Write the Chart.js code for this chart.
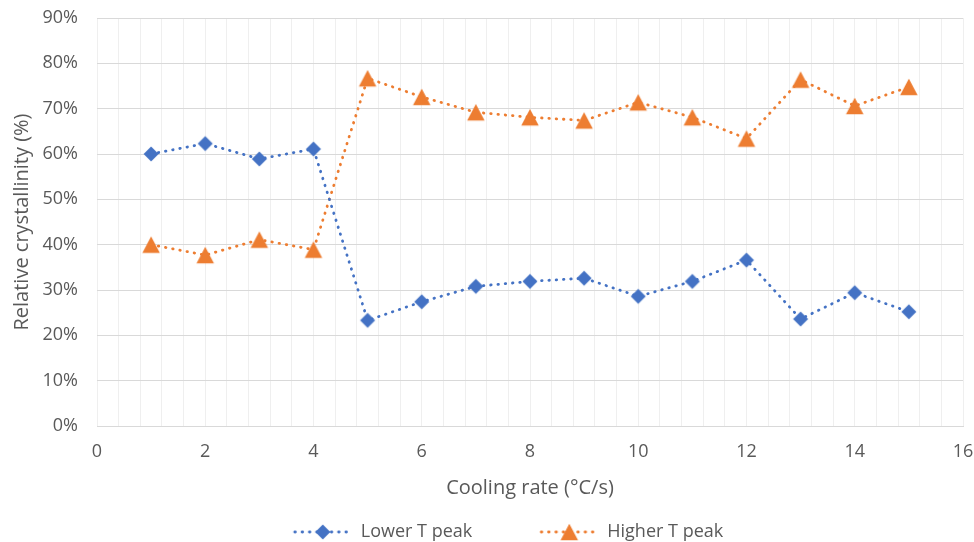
<!DOCTYPE html>
<html>
<head>
<meta charset="utf-8">
<script src="https://cdn.jsdelivr.net/npm/chart.js@4"></script>
<style>
  html, body { margin: 0; padding: 0; background: #fff; }
  #wrap { width: 974px; height: 542px; }
</style>
</head>
<body>
<div id="wrap"><canvas id="crystallinity"></canvas></div>
<script>
// cooling rate (°C/s) and relative crystallinity (%) of each DSC peak
const coolingRates = [1, 2, 3, 4, 5, 6, 7, 8, 9, 10, 11, 12, 13, 14, 15];
const lowerPeak = [60.0, 62.3, 58.9, 61.1, 23.3, 27.4, 30.8, 31.9, 32.6, 28.6, 31.9, 36.6, 23.6, 29.4, 25.2];
const higherPeak = [40.0, 37.7, 41.1, 38.9, 76.7, 72.6, 69.2, 68.1, 67.4, 71.4, 68.1, 63.4, 76.4, 70.6, 74.8];
const seriesNames = ['Lower T peak', 'Higher T peak'];

const BLUE = '#4472C4';
const ORANGE = '#ED7D31';
const TEXT = '#595959';
const FONT = '"Open Sans", sans-serif';
const LINE_W = 2.8;
const DOTS = [0.5, 6.8];

function drawDiamond(g, cx, cy, half, color) {
  g.fillStyle = color;
  g.beginPath();
  g.moveTo(cx, cy - half);
  g.lineTo(cx + half, cy);
  g.lineTo(cx, cy + half);
  g.lineTo(cx - half, cy);
  g.closePath();
  g.fill();
}

function drawTriangle(g, cx, cy, w, h, color) {
  g.fillStyle = color;
  g.beginPath();
  g.moveTo(cx, cy - h / 2);
  g.lineTo(cx + w / 2, cy + h / 2);
  g.lineTo(cx - w / 2, cy + h / 2);
  g.closePath();
  g.fill();
}

function makeMarker(kind) {
  const c = document.createElement('canvas');
  c.width = 20; c.height = 20;
  const g = c.getContext('2d');
  if (kind === 'diamond') drawDiamond(g, 10, 10, 7.5, BLUE);
  else drawTriangle(g, 10, 10, 17.5, 16.5, ORANGE);
  return c;
}

// legend sample: dotted line with marker, right aligned so the blank part spaces the items
const LEGEND_W = 101;
function makeLegendIcon(kind) {
  const c = document.createElement('canvas');
  c.width = LEGEND_W; c.height = 20;
  const g = c.getContext('2d');
  const color = kind === 'diamond' ? BLUE : ORANGE;
  g.strokeStyle = color;
  g.lineWidth = LINE_W;
  g.lineCap = 'round';
  g.setLineDash(DOTS);
  g.beginPath();
  g.moveTo(LEGEND_W - 57, 10);
  g.lineTo(LEGEND_W - 1, 10);
  g.stroke();
  g.setLineDash([]);
  if (kind === 'diamond') drawDiamond(g, LEGEND_W - 29, 10, 7.5, BLUE);
  else drawTriangle(g, LEGEND_W - 29, 10, 17.5, 16.5, ORANGE);
  return c;
}

const markers = [makeMarker('diamond'), makeMarker('triangle')];
const legendIcons = [makeLegendIcon('diamond'), makeLegendIcon('triangle')];

const toPoints = vals => coolingRates.map((x, i) => ({ x: x, y: vals[i] }));

const ctx = document.getElementById('crystallinity').getContext('2d');

new Chart(ctx, {
  type: 'line',
  data: {
    datasets: [
      {
        label: seriesNames[0],
        data: toPoints(lowerPeak),
        borderColor: BLUE,
        backgroundColor: BLUE,
        borderWidth: LINE_W,
        borderDash: DOTS,
        borderCapStyle: 'round',
        pointStyle: markers[0],
        tension: 0,
        fill: false
      },
      {
        label: seriesNames[1],
        data: toPoints(higherPeak),
        borderColor: ORANGE,
        backgroundColor: ORANGE,
        borderWidth: LINE_W,
        borderDash: DOTS,
        borderCapStyle: 'round',
        pointStyle: markers[1],
        tension: 0,
        fill: false
      }
    ]
  },
  options: {
    responsive: true,
    maintainAspectRatio: false,
    animation: false,
    devicePixelRatio: 1,
    layout: { padding: { left: 0, right: 0, top: 0, bottom: -9 } },
    scales: {
      x: {
        type: 'linear',
        min: 0,
        max: 16,
        ticks: {
          stepSize: 0.4,
          autoSkip: false,
          maxRotation: 0,
          padding: 15,
          color: TEXT,
          font: { family: FONT, size: 18 },
          callback: v => Math.abs(v / 2 - Math.round(v / 2)) < 1e-6 ? v : ''
        },
        grid: { color: '#efefef', drawTicks: false },
        border: { display: true, color: '#d9d9d9', width: 1 },
        title: {
          display: true,
          text: 'Cooling rate (°C/s)',
          color: TEXT,
          font: { family: FONT, size: 20 },
          padding: { top: 0, bottom: -2 }
        },
        afterFit: s => {
          s.height = 72;
          s.paddingLeft = 0;
          s.paddingRight = 11;
        }
      },
      y: {
        min: 0,
        max: 90,
        ticks: {
          stepSize: 10,
          padding: 19,
          color: TEXT,
          font: { family: FONT, size: 18 },
          callback: v => v + '%'
        },
        grid: { color: '#d9d9d9', drawTicks: false },
        border: { display: false },
        title: {
          display: true,
          text: 'Relative crystallinity (%)',
          color: TEXT,
          font: { family: FONT, size: 20 },
          padding: { top: 10, bottom: 0 }
        },
        afterFit: s => {
          s.width = 97;
          s.paddingTop = 18;
          s.paddingBottom = 0;
        }
      }
    },
    plugins: {
      tooltip: { enabled: false },
      legend: {
        display: true,
        position: 'bottom',
        onClick: null,
        labels: {
          usePointStyle: true,
          pointStyleWidth: LEGEND_W,
          boxHeight: 18,
          padding: 25,
          color: TEXT,
          font: { family: FONT, size: 18 },
          generateLabels: chart => Chart.defaults.plugins.legend.labels.generateLabels(chart)
            .map(item => Object.assign(item, { pointStyle: legendIcons[item.datasetIndex] }))
        }
      }
    }
  }
});
</script>
</body>
</html>
